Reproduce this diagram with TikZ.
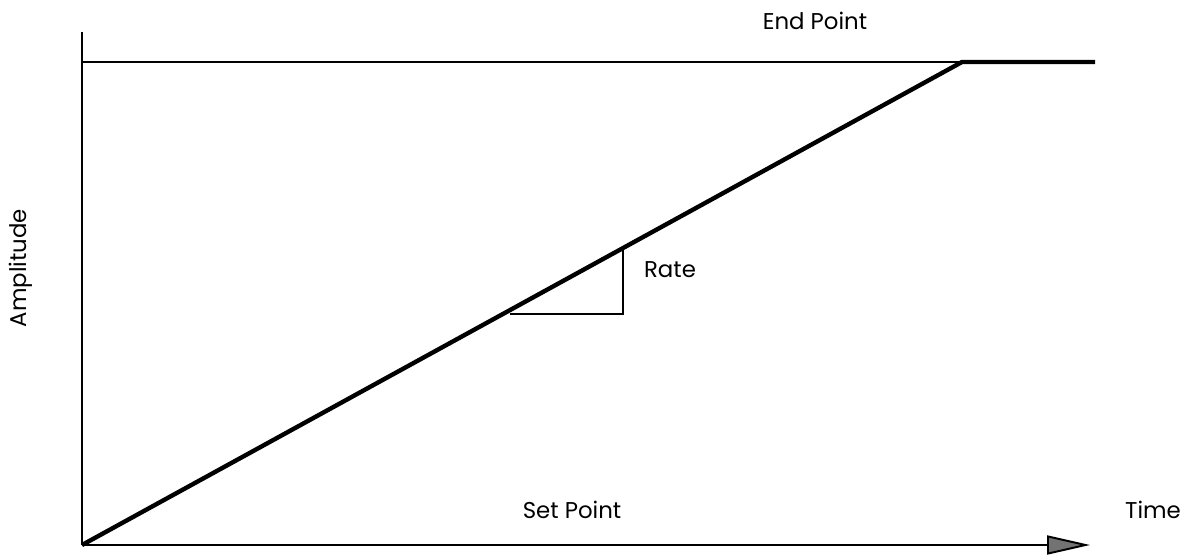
\documentclass[tikz,border=0pt]{standalone}
\usepackage{fontspec}
\setmainfont{Poppins}
\usetikzlibrary{arrows.meta}

\begin{document}
\begin{tikzpicture}[lbl/.style={font=\fontsize{13}{15}\selectfont, inner sep=0pt}]
\useasboundingbox (-1.64,-0.24) rectangle (22.12,10.9);
\coordinate (origin) at (0,0);
\coordinate (ytop) at (0,10.26);
\coordinate (xend) at (20.16,0);
\coordinate (endleft) at (0,9.66);
\coordinate (corner) at (17.6,9.66);
\coordinate (lineend) at (20.26,9.66);
\coordinate (rtop) at (10.82,5.94);
\coordinate (rleft) at (8.56,4.62);
\coordinate (rright) at (10.82,4.62);
% axes
\draw[line width=1.1pt] (origin) -- (ytop);
\draw[line width=1.1pt, -{Triangle[length=0.86cm,width=0.38cm,fill=black!55]}] (origin) -- (xend);
% end point level
\draw[line width=0.7pt] (endleft) -- (corner);
\draw[line width=2.5pt, line join=round] (origin) -- (corner) -- (lineend);
% rate triangle
\draw[line width=0.8pt] (rleft) -- (rright) -- (rtop);
\node[lbl] (endpt) at (14.66,10.48) {End Point};
\node[lbl] (rate) at (11.76,5.5) {Rate};
\node[lbl] (setpt) at (9.8,0.7) {Set Point};
\node[lbl] (time) at (21.42,0.7) {Time};
\node[lbl, rotate=90] (ampl) at (-1.22,5.54) {Amplitude};
\end{tikzpicture}
\end{document}
